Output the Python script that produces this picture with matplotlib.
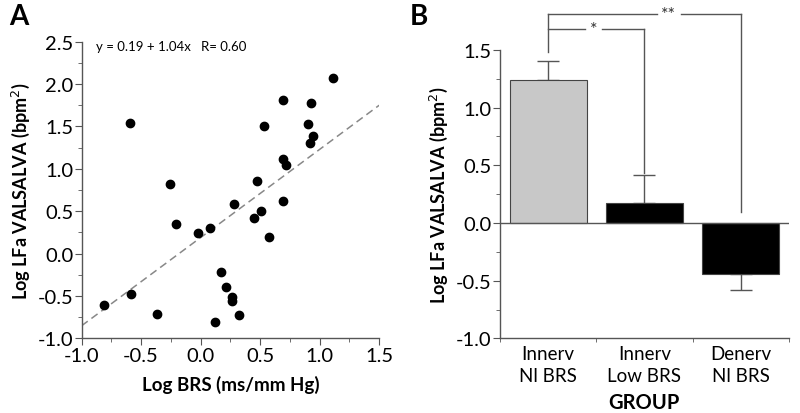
import matplotlib.pyplot as plt
import numpy as np
from matplotlib.ticker import MultipleLocator, FixedLocator

plt.rcParams['font.family'] = ['Lato', 'DejaVu Sans']
plt.rcParams['axes.unicode_minus'] = False

# panel A: scatter
log_brs = [-0.81, -0.59, -0.585, -0.37, -0.255, -0.21, -0.02, 0.079, 0.284, 0.12,
           0.169, 0.214, 0.26, 0.265, 0.32, 0.449, 0.477, 0.505, 0.53, 0.578,
           0.693, 0.693, 0.718, 0.693, 0.906, 0.925, 0.94, 0.92, 1.116]
log_lfa = [-0.60, 1.545, -0.47, -0.71, 0.82, 0.35, 0.24, 0.30, 0.59, -0.81,
           -0.22, -0.39, -0.51, -0.56, -0.72, 0.42, 0.86, 0.50, 1.51, 0.20,
           1.81, 1.12, 1.05, 0.62, 1.53, 1.78, 1.39, 1.30, 2.07]
fit_a, fit_b = 0.19, 1.04

# panel B: bars
groups = ['Innerv\nNl BRS', 'Innerv\nLow BRS', 'Denerv\nNl BRS']
means = [1.237, 0.17, -0.44]
sem = [0.163, 0.25, 0.14]
bar_colors = ['#c8c8c8', 'black', 'black']

fig = plt.figure(figsize=(8, 4.14), dpi=100)
axA = fig.add_axes([0.102, 0.18, 0.372, 0.717])
axB = fig.add_axes([0.625, 0.18, 0.361, 0.697])

spine_col = '#555555'
for ax in (axA, axB):
    for s in ['top', 'right']:
        ax.spines[s].set_visible(False)
    for s in ['left', 'bottom']:
        ax.spines[s].set_color(spine_col)
        ax.spines[s].set_linewidth(1.0)
    ax.tick_params(which='major', direction='out', length=5, color=spine_col, labelsize=14.5, pad=1)
    ax.tick_params(which='minor', direction='out', length=3, color=spine_col)

# ---- A
axA.scatter(log_brs, log_lfa, s=36, color='black', zorder=3)
xs = np.array([-1.0, 1.5])
axA.plot(xs, fit_a + fit_b * xs, ls=(0, (5, 3)), color='#888888', lw=1.1)
axA.set_xlim(-1.0, 1.5)
axA.set_ylim(-1.0, 2.5)
axA.xaxis.set_major_locator(MultipleLocator(0.5))
axA.xaxis.set_minor_locator(MultipleLocator(0.25))
axA.yaxis.set_major_locator(MultipleLocator(0.5))
axA.yaxis.set_minor_locator(MultipleLocator(0.25))
axA.set_xlabel('Log BRS (ms/mm Hg)', fontsize=13.5, fontweight='bold', labelpad=8)
axA.set_ylabel('Log LFa VALSALVA (bpm$^2$)', fontsize=13, fontweight='bold', labelpad=4)
axA.text(-0.88, 2.45, 'y = 0.19 + 1.04x   R= 0.60', fontsize=9.5, va='center')
fig.text(0.012, 0.958, 'A', fontsize=20, fontweight='bold', va='center')

# ---- B
x = np.arange(len(groups))
axB.bar(x, means, width=0.8, color=bar_colors, edgecolor='#444444', lw=0.8, zorder=2)
lower = [s if m < 0 else 0 for m, s in zip(means, sem)]
upper = [s if m >= 0 else 0 for m, s in zip(means, sem)]
axB.errorbar(x, means, yerr=[lower, upper], fmt='none', ecolor='#555555',
             elinewidth=1.0, capsize=8, capthick=1.0, zorder=1)
axB.axhline(0, color=spine_col, lw=1.0, zorder=3)
axB.set_xlim(-0.5, 2.5)
axB.set_ylim(-1.0, 1.5)
axB.yaxis.set_major_locator(MultipleLocator(0.5))
axB.yaxis.set_minor_locator(MultipleLocator(0.25))
axB.set_xticks(x)
axB.set_xticklabels(groups, fontsize=13.5, linespacing=1.3)
axB.tick_params(axis='x', which='major', length=0, pad=5)
axB.xaxis.set_minor_locator(FixedLocator([-0.5, 0.5, 1.5, 2.5]))
axB.set_xlabel('GROUP', fontsize=14.5, fontweight='bold', labelpad=6)
axB.set_ylabel('Log LFa VALSALVA (bpm$^2$)', fontsize=13, fontweight='bold', labelpad=4)
fig.text(0.512, 0.958, 'B', fontsize=20, fontweight='bold', va='center')

# significance brackets
bk = dict(color='#555555', lw=1.0, clip_on=False)
axB.plot([0, 0], [1.48, 1.81], **bk)
axB.plot([0, 0.38], [1.685, 1.685], **bk)
axB.plot([0.56, 1.0], [1.685, 1.685], **bk)
axB.plot([1.0, 1.0], [1.685, 0.43], **bk)
axB.text(0.47, 1.685, '*', fontsize=13, ha='center', va='center', color='#333333')
axB.plot([0, 1.13], [1.81, 1.81], **bk)
axB.plot([1.38, 2.0], [1.81, 1.81], **bk)
axB.plot([2.0, 2.0], [1.81, 0.10], **bk)
axB.text(1.255, 1.81, '**', fontsize=13, ha='center', va='center', color='#333333')

fig.savefig('out.png', dpi=100)
